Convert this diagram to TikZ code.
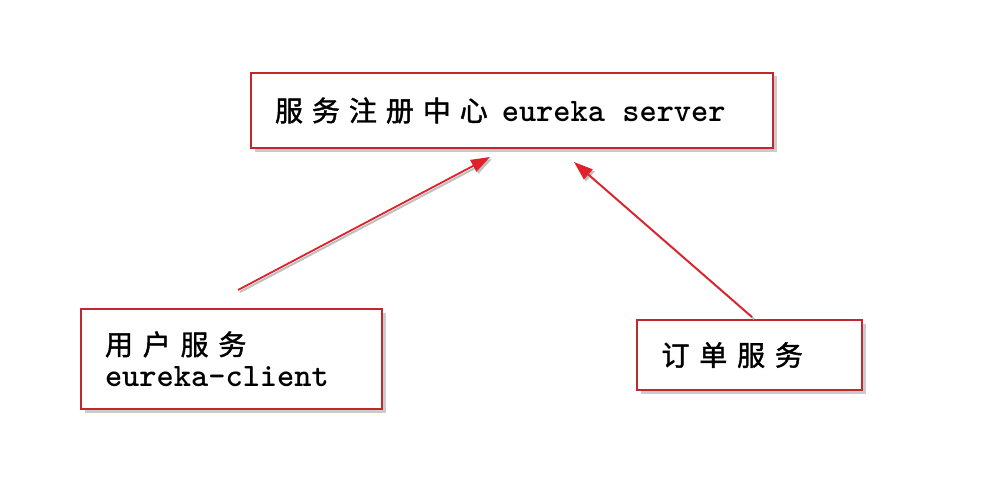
\documentclass[tikz,border=0pt]{standalone}
\usepackage{fontspec}
\newfontfamily\cjk[LetterSpace=32,FakeBold=1.5]{Noto Sans CJK SC}
\newfontfamily\cjkwide[LetterSpace=35,FakeBold=1.5]{Noto Sans CJK SC}
\newfontfamily\mono{lmmonolt10-bold.otf}
\usetikzlibrary{shadows,arrows.meta}
\definecolor{boxred}{HTML}{C0282E}
\definecolor{arrowred}{HTML}{E0202A}
\tikzset{
    svcbox/.style={draw=boxred,line width=2pt,fill=white,align=left,
        inner xsep=24pt,inner ysep=0pt,
        drop shadow={shadow xshift=3.5pt,shadow yshift=-3.5pt,fill=black!40}},
    regarrow/.style={draw=arrowred,line width=1.8pt,
        -{Triangle[length=19pt,width=13pt]}},
    regshadow/.style={draw=black!25,line width=2pt,
        -{Triangle[length=19pt,width=13pt]}}
}
\begin{document}
\begin{tikzpicture}[x=1pt,y=-1pt]
        \useasboundingbox[fill=white] (0,0) rectangle (984,476);
        %% Boxes
        \node[svcbox,minimum width=522pt,minimum height=75pt,text width=474pt]
            (server) at (512,110.5)
            {\fontsize{28}{30}\selectfont{\cjk 服务注册中心}\hspace{14pt}%
             \fontsize{32.8}{30}\selectfont\mono eureka\hspace{17.2pt}server};
        \node[svcbox,minimum width=301pt,minimum height=100pt,text width=253pt]
            (user) at (231.5,359)
            {\fontsize{28}{30}\selectfont\cjkwide 用户服务\\[8pt]
             \fontsize{32.8}{30}\selectfont\mono eureka-client};
        \node[svcbox,minimum width=225pt,minimum height=70pt,text width=176pt]
            (order) at (749.5,355)
            {\fontsize{28}{30}\selectfont\cjkwide 订单服务};
        %% Arrow ends
        \coordinate (userTail) at (238,290);
        \coordinate (userHead) at (490,157);
        \coordinate (orderTail) at (752,317);
        \coordinate (orderHead) at (574,162);
        %% Register arrows
        \draw[regshadow] ([shift={(2,2)}]userTail) -- ([shift={(2,2)}]userHead);
        \draw[regshadow] ([shift={(2,2)}]orderTail) -- ([shift={(2,2)}]orderHead);
        \draw[regarrow] (userTail) -- (userHead);
        \draw[regarrow] (orderTail) -- (orderHead);
    \end{tikzpicture}
\end{document}
